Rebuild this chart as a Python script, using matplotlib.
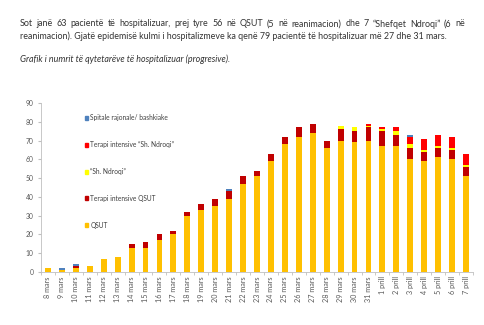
import numpy as np
import matplotlib.pyplot as plt
from matplotlib.patches import Patch

plt.rcParams['font.family'] = ['Lato', 'DejaVu Sans']

days = [f"{d} mars" for d in range(8, 32)] + [f"{d} prill" for d in range(1, 8)]

qsut = [2, 1, 2, 3, 7, 8, 13, 13, 17, 20, 30, 33, 35, 39, 47, 51, 59, 68, 72, 74,
        66, 70, 69, 70, 67, 67, 60, 59, 61, 60, 51]
ti_qsut = [0, 0, 1, 0, 0, 0, 2, 3, 3, 2, 2, 3, 4, 4, 4, 3, 4, 4, 5, 5,
           4, 6, 6, 7, 8, 6, 6, 5, 5, 5, 5]
ndroqi = [0, 0, 0, 0, 0, 0, 0, 0, 0, 0, 0, 0, 0, 0, 0, 0, 0, 0, 0, 0,
          0, 2, 2, 1, 1, 2, 2, 1, 1, 1, 1]
ti_ndroqi = [0, 0, 0, 0, 0, 0, 0, 0, 0, 0, 0, 0, 0, 0, 0, 0, 0, 0, 0, 0,
             0, 0, 0, 1, 1, 2, 4, 6, 6, 6, 6]
spitale = [0, 1, 1, 0, 0, 0, 0, 0, 0, 0, 0, 0, 0, 1, 0, 0, 0, 0, 0, 0,
           0, 0, 0, 0, 0, 0, 1, 0, 0, 0, 0]

series = [
    ("QSUT", qsut, "#FFC000"),
    ("Terapi intensive QSUT", ti_qsut, "#C00000"),
    ("\u201cSh. Ndroqi\u201d", ndroqi, "#FFFF00"),
    ("Terapi intensive \u201cSh. Ndroqi\u201d", ti_ndroqi, "#FF0000"),
    ("Spitale rajonale/ bashkiake", spitale, "#4F81BD"),
]

line1 = "Sot janë 63 pacientë të hospitalizuar, prej tyre 56 në QSUT (5 në reanimacion) dhe 7 \u201cShefqet Ndroqi\u201d (6 në"
line2 = "reanimacion). Gjatë epidemisë kulmi i hospitalizmeve ka qenë 79 pacientë të hospitalizuar më 27 dhe 31 mars."
line3 = "Grafik i numrit të qytetarëve të hospitalizuar (progresive)."

fig = plt.figure(figsize=(4.85, 3.25), dpi=100)
W, H = 485, 325
txt = dict(fontsize=6.4, color="#333333", va="center")


def justified(text, x0, x1, y):
    # place words one by one so the line fills x0..x1 like the justified paragraph
    renderer = fig.canvas.get_renderer()
    words = text.split(" ")
    items = [fig.text(0, y / H, w, **txt) for w in words]
    widths = [t.get_window_extent(renderer).width for t in items]
    gap = (x1 - x0 - sum(widths)) / (len(words) - 1)
    pos = x0
    for t, w in zip(items, widths):
        t.set_x(pos / W)
        pos += w + gap


justified(line1, 20, 465, H - 24)
fig.text(20 / W, 1 - 36 / H, line2, **txt)
fig.text(20 / W, 1 - 59 / H, line3, style="italic", **txt)

ax = fig.add_axes([41 / W, 1 - 272 / H, 432 / W, 169 / H])

x = np.arange(len(days))
bottom = np.zeros(len(days))
for name, vals, col in series:
    ax.bar(x, vals, width=0.42, bottom=bottom, color=col, label=name)
    bottom += np.array(vals)

ax.set_xlim(-0.5, len(days) - 0.5)
ax.set_ylim(0, 90)
ax.set_yticks(range(0, 91, 10))
ax.set_xticks(x)
ax.set_xticklabels(days, rotation=90, fontsize=5.2, color="#595959")
ax.set_xticks(np.arange(-0.5, len(days), 1), minor=True)
ax.tick_params(axis="x", which="major", length=0, pad=3)
ax.tick_params(axis="x", which="minor", length=2.5, color="#BFBFBF")
ax.tick_params(axis="y", labelsize=4.9, labelcolor="#595959", length=2, color="#BFBFBF")
for s in ["top", "right"]:
    ax.spines[s].set_visible(False)
for s in ["left", "bottom"]:
    ax.spines[s].set_color("#BFBFBF")
    ax.spines[s].set_linewidth(0.6)

handles = [Patch(color=c, label=n) for n, v, c in series][::-1]
ax.legend(handles=handles, loc="upper left", bbox_to_anchor=(0.09, 0.96),
          frameon=False, fontsize=4.8, labelcolor="#404040",
          handlelength=0.55, handleheight=0.55, handletextpad=0.3,
          labelspacing=2.97, borderaxespad=0.3)

fig.savefig("out.png", dpi=100)
